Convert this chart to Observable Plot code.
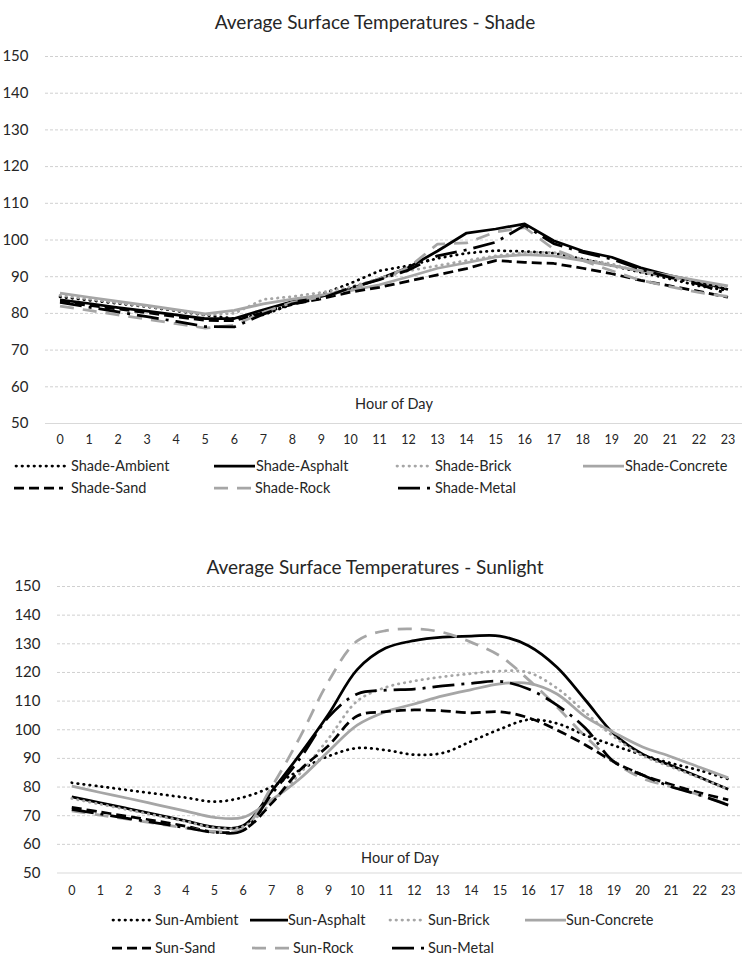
<!DOCTYPE html>
<html><head><meta charset="utf-8">
<script src="https://cdn.jsdelivr.net/npm/d3@7"></script>
<script src="https://cdn.jsdelivr.net/npm/@observablehq/plot@0.6"></script>
<style>
body{margin:0;background:#fff;font-family:Lato,"Open Sans",sans-serif;color:#262626}
#root{position:relative;width:750px;height:969px;overflow:hidden;background:#fff}
.chart{position:absolute;left:0}
.title{position:absolute;left:0;width:750px;text-align:center;font-size:19px;line-height:22px;color:#262626}
.leg{position:absolute;font-size:14.5px;white-space:nowrap;line-height:18px;color:#262626}
.sw{position:absolute}
</style></head><body><div id="root"></div>
<script>
// ---------- data ----------
const hours = [0,1,2,3,4,5,6,7,8,9,10,11,12,13,14,15,16,17,18,19,20,21,22,23];
const yTicks = [50,60,70,80,90,100,110,120,130,140,150];
const materials = ["Ambient","Asphalt","Brick","Concrete","Sand","Rock","Metal"];

const shadeAmbient  = [84.5,83.6,82.7,81.8,80.7,79.5,78.6,79.6,82.5,85.2,88.2,91.6,93.0,95.0,96.4,97.1,96.9,96.4,94.8,93.0,91.2,89.4,87.5,86.2];
const shadeAsphalt  = [83.7,82.7,81.6,80.6,79.6,78.6,78.6,81.0,83.2,84.6,86.7,89.4,92.5,97.0,101.9,103.0,104.4,99.8,97.0,95.3,92.4,90.3,88.6,86.5];
const shadeBrick    = [84.9,83.9,82.9,81.9,80.9,79.6,80.0,83.8,84.6,85.7,87.2,89.5,91.6,93.0,94.4,95.7,96.6,96.6,94.8,93.5,91.2,89.8,88.5,87.1];
const shadeConcrete = [85.5,84.4,83.3,82.2,81.0,79.9,80.8,82.6,83.9,85.0,86.2,87.8,90.0,92.3,93.8,95.4,96.0,95.7,94.4,93.0,91.6,90.3,88.9,87.5];
const shadeSand     = [83.2,82.2,81.2,80.2,79.1,78.1,78.0,80.2,82.5,84.0,85.8,87.1,88.8,90.5,92.2,94.4,93.9,93.6,92.3,90.8,89.0,87.5,86.0,84.4];
const shadeRock     = [82.0,80.8,79.6,78.4,77.2,76.0,76.8,80.3,83.0,84.5,86.5,89.4,92.5,98.9,99.2,102.2,103.4,97.5,94.4,91.6,89.0,87.3,85.7,84.6];
const shadeMetal    = [83.0,81.7,80.4,79.1,77.8,76.4,76.3,79.8,82.6,84.1,87.0,89.2,91.8,95.7,97.3,99.4,104.0,99.0,96.6,94.8,92.0,89.8,88.0,85.3];

const sunAmbient  = [81.5,80.2,78.9,77.6,76.3,74.9,76.4,80.1,86.0,90.8,93.6,92.9,91.3,91.9,96.0,100.2,103.5,102.2,98.1,94.5,91.2,88.3,85.8,82.8];
const sunAsphalt  = [76.6,74.5,72.4,70.3,68.2,66.0,66.5,78.5,91.5,105.5,121.0,128.5,131.1,132.3,132.7,132.7,129.3,121.8,110.3,98.5,91.5,87.5,83.4,79.2];
const sunBrick    = [76.0,74.0,72.0,70.0,68.0,65.8,66.2,74.5,84.8,97.0,110.0,114.8,117.0,118.5,119.6,120.5,120.0,114.5,106.0,97.5,91.0,87.0,83.2,79.2];
const sunConcrete = [80.3,78.1,76.0,73.8,71.6,69.4,69.4,75.5,83.0,92.5,101.6,106.3,109.0,111.8,114.0,116.0,116.2,112.5,104.5,99.0,94.0,90.6,86.9,83.2];
const sunSand     = [72.9,71.3,69.7,68.1,66.3,64.3,65.0,74.3,86.0,94.5,104.8,106.3,106.9,106.6,105.9,106.3,104.2,99.9,94.7,88.8,84.2,80.9,78.0,75.5];
const sunRock     = [71.7,70.2,68.7,67.2,65.7,64.5,65.4,80.0,97.5,117.0,131.0,134.6,135.2,134.0,130.5,125.8,117.5,108.0,97.6,88.8,83.0,80.1,77.2,73.9];
const sunMetal    = [72.2,70.6,69.0,67.4,65.8,64.2,64.8,77.5,90.0,104.5,112.5,113.8,114.2,115.3,116.2,116.9,114.2,108.6,100.5,88.8,84.2,80.1,77.2,73.7];

const shadeSeries = {Ambient:shadeAmbient, Asphalt:shadeAsphalt, Brick:shadeBrick, Concrete:shadeConcrete, Sand:shadeSand, Rock:shadeRock, Metal:shadeMetal};
const sunSeries   = {Ambient:sunAmbient, Asphalt:sunAsphalt, Brick:sunBrick, Concrete:sunConcrete, Sand:sunSand, Rock:sunRock, Metal:sunMetal};

// ---------- styles ----------
const GRAY = "#a6a6a6";
const styles = {
  Ambient:  {stroke:"#000", dash:"0.5,5.5", cap:"round"},
  Asphalt:  {stroke:"#000", dash:null, cap:"butt"},
  Brick:    {stroke:GRAY,   dash:"0.5,5.5", cap:"round"},
  Concrete: {stroke:GRAY,   dash:null, cap:"butt"},
  Sand:     {stroke:"#000", dash:"10,5", cap:"butt"},
  Rock:     {stroke:GRAY,   dash:"14,9", cap:"butt"},
  Metal:    {stroke:"#000", dash:"22,7,3,7", cap:"butt"}
};

const root = document.getElementById("root");

function makeChart(series, cfg) {
  const marks = [
    Plot.gridY(yTicks.slice(1), {stroke:"#d0d0d0", strokeOpacity:1, strokeDasharray:"3,2"}),
    Plot.ruleY([50], {stroke:"#d9d9d9", strokeWidth:1.2}),
    Plot.axisY({ticks:yTicks, tickSize:0, tickPadding:17, fontSize:15, label:null}),
    Plot.axisX({ticks:hours, tickSize:0, tickPadding:cfg.xpad, fontSize:12.5, label:null, tickFormat:d => String(d)}),
    Plot.text(["Hour of Day"], {frameAnchor:"bottom", dy:cfg.labelDy, fontSize:14.5})
  ];
  for (const m of materials) {
    const st = styles[m];
    marks.push(Plot.line(hours.map((h,i) => ({h, v:series[m][i]})), {
      x:"h", y:"v", stroke:st.stroke, strokeWidth:2.75,
      strokeDasharray: st.dash || undefined, strokeLinecap: st.cap, strokeLinejoin:"round",
      curve: cfg.curve
    }));
  }
  const svg = Plot.plot({
    width:750, height:cfg.height,
    marginTop:cfg.mt, marginBottom:cfg.mb, marginLeft:cfg.ml, marginRight:8,
    x:{domain:[-0.5,23.5], axis:null},
    y:{domain:[50,150], axis:null},
    style:{fontFamily:"Lato, 'Open Sans', sans-serif", color:"#262626", background:"transparent", fontSize:"14px"},
    marks
  });
  svg.classList.add("chart");
  svg.style.top = cfg.top + "px";
  root.appendChild(svg);
}

function addTitle(text, top) {
  const d = document.createElement("div");
  d.className = "title"; d.style.top = top + "px"; d.textContent = text;
  root.appendChild(d);
}

function addLegend(prefix, items, rowsY) {
  items.forEach(it => {
    const st = styles[it.name];
    const y = rowsY[it.row];
    const w = it.x1 - it.x0;
    const s = d3.create("svg").attr("class","sw").attr("width", w + 4).attr("height", 10)
      .style("left", (it.x0 - 2) + "px").style("top", (y - 5) + "px");
    s.append("line").attr("x1", 2).attr("x2", w + 2).attr("y1", 5).attr("y2", 5)
      .attr("stroke", st.stroke).attr("stroke-width", 2.75)
      .attr("stroke-dasharray", st.dash).attr("stroke-linecap", st.cap);
    root.appendChild(s.node());
    const t = document.createElement("div");
    t.className = "leg"; t.textContent = prefix + "-" + it.name;
    t.style.left = it.tx + "px"; t.style.top = (y - 9) + "px";
    root.appendChild(t);
  });
}

// Shade chart
addTitle("Average Surface Temperatures - Shade", 11);
makeChart(shadeSeries, {top:0, height:456, mt:56, mb:33, ml:45, xpad:12, labelDy:-15, curve:"linear"});
addLegend("Shade", [
  {name:"Ambient",  row:0, x0:16,  x1:67,  tx:71},
  {name:"Asphalt",  row:0, x0:214, x1:255, tx:256},
  {name:"Brick",    row:0, x0:397, x1:431, tx:435},
  {name:"Concrete", row:0, x0:583, x1:624, tx:625},
  {name:"Sand",     row:1, x0:14,  x1:63,  tx:71},
  {name:"Rock",     row:1, x0:214, x1:251, tx:255},
  {name:"Metal",    row:1, x0:398, x1:432, tx:435}
], [466, 488]);

// Sun chart
addTitle("Average Surface Temperatures - Sunlight", 556);
makeChart(sunSeries, {top:540, height:370, mt:46, mb:37.5, ml:57, xpad:13, labelDy:-10.5, curve:"catmull-rom"});
addLegend("Sun", [
  {name:"Ambient",  row:0, x0:113, x1:152, tx:155},
  {name:"Asphalt",  row:0, x0:250, x1:288, tx:288},
  {name:"Brick",    row:0, x0:390, x1:424, tx:428},
  {name:"Concrete", row:0, x0:525, x1:566, tx:566},
  {name:"Sand",     row:1, x0:112, x1:151, tx:155},
  {name:"Rock",     row:1, x0:252, x1:289, tx:293},
  {name:"Metal",    row:1, x0:392, x1:425, tx:428}
], [920, 948]);
</script></body></html>
